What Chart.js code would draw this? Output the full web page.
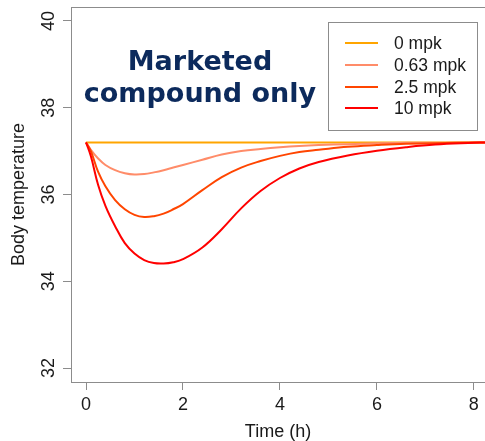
<!DOCTYPE html>
<html>
<head>
<meta charset="utf-8">
<script src="https://cdn.jsdelivr.net/npm/chart.js@4.4.0/dist/chart.umd.min.js"></script>
<style>
  html, body { margin: 0; padding: 0; background: #fff; }
  #wrap { width: 485px; height: 441px; position: relative; }
</style>
</head>
<body>
<div id="wrap"><canvas id="tempChart"></canvas></div>
<script>
// time points (h) and body temperature per dose
var times   = [0, 0.1, 0.25, 0.4, 0.6, 0.8, 1.0, 1.2, 1.4, 1.6, 1.8, 2.0, 2.4, 2.8, 3.2, 3.6, 4.0, 4.4, 4.8, 5.4, 6.0, 6.6, 7.2, 8.0, 8.25];
var dose0   = [37.2, 37.2, 37.2, 37.2, 37.2, 37.2, 37.2, 37.2, 37.2, 37.2, 37.2, 37.2, 37.2, 37.2, 37.2, 37.2, 37.2, 37.2, 37.2, 37.2, 37.2, 37.2, 37.2, 37.2, 37.2];
var dose063 = [37.2, 37.03, 36.83, 36.68, 36.56, 36.49, 36.46, 36.47, 36.51, 36.56, 36.62, 36.68, 36.8, 36.92, 37.0, 37.05, 37.09, 37.12, 37.14, 37.16, 37.18, 37.19, 37.19, 37.2, 37.2];
var dose25  = [37.2, 37.0, 36.52, 36.19, 35.87, 35.66, 35.53, 35.48, 35.5, 35.56, 35.66, 35.78, 36.1, 36.4, 36.62, 36.77, 36.89, 36.98, 37.03, 37.1, 37.14, 37.17, 37.18, 37.2, 37.2];
var dose10  = [37.2, 36.88, 36.22, 35.74, 35.27, 34.88, 34.64, 34.49, 34.42, 34.41, 34.44, 34.51, 34.78, 35.2, 35.68, 36.08, 36.38, 36.6, 36.75, 36.9, 37.01, 37.09, 37.15, 37.19, 37.2];

var doseLabels = ['0 mpk', '0.63 mpk', '2.5 mpk', '10 mpk'];
var doseColors = ['#ffa500', '#ff8c69', '#ff4500', '#ff0000'];
var xTicks = [0, 2, 4, 6, 8];
var yTicks = [32, 34, 36, 38, 40];

var axisGray = '#8c8c8c';
var textColor = '#1a1a1a';

function toPoints(ys) {
  return times.map(function (t, i) { return { x: t, y: ys[i] }; });
}

var series = [dose0, dose063, dose25, dose10];
var datasets = series.map(function (ys, i) {
  return {
    label: doseLabels[i],
    data: toPoints(ys),
    borderColor: doseColors[i],
    backgroundColor: doseColors[i],
    borderWidth: 2,
    pointRadius: 0,
    tension: 0.4,
    order: series.length - 1 - i  // 10 mpk drawn on top
  };
});

// box top edge, big caption and the boxed legend
var extras = {
  id: 'extras',
  afterDraw: function (chart) {
    var c = chart.ctx, a = chart.chartArea;
    c.save();
    c.strokeStyle = axisGray;
    c.lineWidth = 1;
    c.beginPath();
    c.moveTo(a.left, a.top + 0.5);
    c.lineTo(a.right, a.top + 0.5);
    c.stroke();

    c.fillStyle = '#0c2a5c';
    c.font = 'bold 27px "DejaVu Sans", Verdana, sans-serif';
    c.textAlign = 'center';
    c.textBaseline = 'alphabetic';
    c.fillText('Marketed', 200, 70);
    c.fillText('compound only', 200, 102);

    // legend
    c.strokeStyle = axisGray;
    c.strokeRect(328.5, 22.5, 149, 108);
    c.font = '17.5px "Liberation Sans", Arial, sans-serif';
    c.textAlign = 'left';
    c.textBaseline = 'middle';
    var rows = [43, 65, 87, 108];
    chart.data.datasets.forEach(function (ds, i) {
      c.strokeStyle = ds.borderColor;
      c.lineWidth = 2;
      c.beginPath();
      c.moveTo(345, rows[i]);
      c.lineTo(378, rows[i]);
      c.stroke();
      c.fillStyle = textColor;
      c.fillText(ds.label, 394, rows[i] + 1);
    });
    c.restore();
  }
};

var ctx = document.getElementById('tempChart').getContext('2d');
new Chart(ctx, {
  type: 'line',
  data: { datasets: datasets },
  plugins: [extras],
  options: {
    responsive: true,
    maintainAspectRatio: false,
    animation: false,
    layout: { padding: { top: 7, right: 0, bottom: 0, left: 0 } },
    plugins: { legend: { display: false }, tooltip: { enabled: false } },
    scales: {
      x: {
        type: 'linear',
        min: -0.31,
        max: 8.23,
        afterBuildTicks: function (s) { s.ticks = xTicks.map(function (v) { return { value: v }; }); },
        afterFit: function (s) { s.height = 59; s.paddingLeft = 0; s.paddingRight = 0; },
        grid: { drawOnChartArea: false, drawTicks: true, tickLength: 8, color: axisGray },
        border: { display: true, color: axisGray },
        ticks: {
          color: textColor, padding: 4, maxRotation: 0,
          font: { family: '"Liberation Sans", Arial, sans-serif', size: 18 }
        },
        title: {
          display: true, text: 'Time (h)', color: textColor,
          padding: 0,
          font: { family: '"Liberation Sans", Arial, sans-serif', size: 18, lineHeight: 1.0 }
        }
      },
      y: {
        min: 31.68,
        max: 40.32,
        afterBuildTicks: function (s) { s.ticks = yTicks.map(function (v) { return { value: v }; }); },
        afterFit: function (s) { s.width = 71; s.paddingTop = 0; s.paddingBottom = 0; },
        grid: { drawOnChartArea: false, drawTicks: true, tickLength: 8, color: axisGray },
        border: { display: true, color: axisGray },
        ticks: {
          color: textColor, padding: 4, minRotation: 90, maxRotation: 90, crossAlign: 'center',
          font: { family: '"Liberation Sans", Arial, sans-serif', size: 18 }
        },
        title: {
          display: true, text: 'Body temperature', color: textColor,
          padding: { top: 8, bottom: 0 },
          font: { family: '"Liberation Sans", Arial, sans-serif', size: 18 }
        }
      }
    }
  }
});
</script>
</body>
</html>
